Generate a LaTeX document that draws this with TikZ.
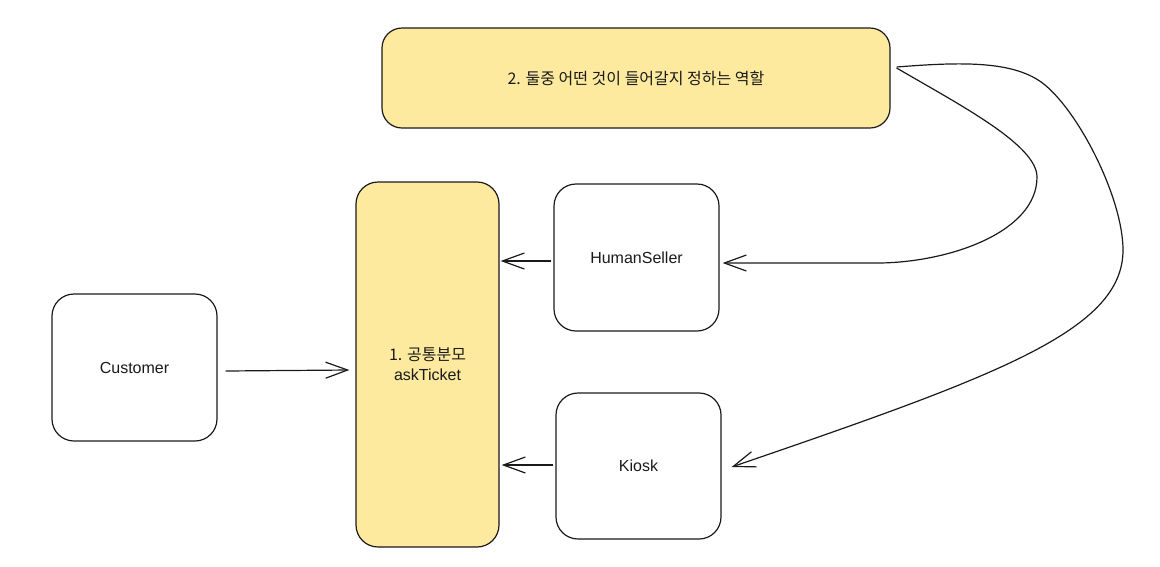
\documentclass[tikz,border=0pt]{standalone}
\usepackage{fontspec}
\setmainfont{Liberation Sans}
\newfontfamily\kr{Noto Sans CJK KR}
\usetikzlibrary{arrows.meta,positioning}
\definecolor{noteyellow}{HTML}{FDEA9F}
\definecolor{inkgray}{HTML}{1A1A1A}
\begin{document}
\begin{tikzpicture}[x=1pt, y=-1pt,
  box/.style = {draw=inkgray, line width=1.2pt, rounded corners=22pt, text=inkgray,
    font=\fontsize{16}{20}\selectfont, align=center, inner sep=0pt},
  note/.style = {box, fill=noteyellow},
  arr/.style = {line width=1.2pt, draw=inkgray, -{Straight Barb[length=22pt, width=16pt, line width=1.2pt]}}]
\useasboundingbox (0,0) rectangle (1160,566);
\node [note, minimum width=508pt, minimum height=100pt, rounded corners=20pt] (role) at (636,78) {\kr 2. 둘중 어떤 것이 들어갈지 정하는 역할};
\node [note, minimum width=143pt, minimum height=365pt] (parent) at (427.5,364.5) {\kr 1. 공통분모\\askTicket};
\node [box, minimum width=165pt, minimum height=147pt] (human) at (636.5,257.5) {HumanSeller};
\node [box, minimum width=165pt, minimum height=146pt] (kiosk) at (638.5,466) {Kiosk};
\node [box, minimum width=165pt, minimum height=147pt] (customer) at (134.5,367.5) {Customer};
\draw [arr] ([xshift=8pt, yshift=-3.5pt]customer.east) -- ([xshift=-6pt, yshift=-5.5pt]parent.west);
\draw [arr] ([xshift=-2pt, yshift=-3.5pt]human.west) -- ([xshift=1pt, yshift=-3.5pt]human.west -| parent.east);
\draw [arr] ([xshift=-2pt, yshift=1pt]kiosk.west) -- ([xshift=2pt, yshift=1pt]kiosk.west -| parent.east);
\draw [arr] ([xshift=6pt, yshift=10pt]role.east) .. controls (960,105) and (1037,145) .. (1037,177)
  .. controls (1037,232) and (950,262) .. (880,263) -- ([xshift=3pt, yshift=-5.5pt]human.east);
\draw [arr] ([xshift=6pt, yshift=11pt]role.east) .. controls (960,62) and (1015,60) .. (1045,85)
  .. controls (1081,115) and (1123,200) .. (1123,250)
  .. controls (1123,330) and (1000,375) .. ([xshift=10pt, yshift=-1pt]kiosk.east);
\end{tikzpicture}
\end{document}
